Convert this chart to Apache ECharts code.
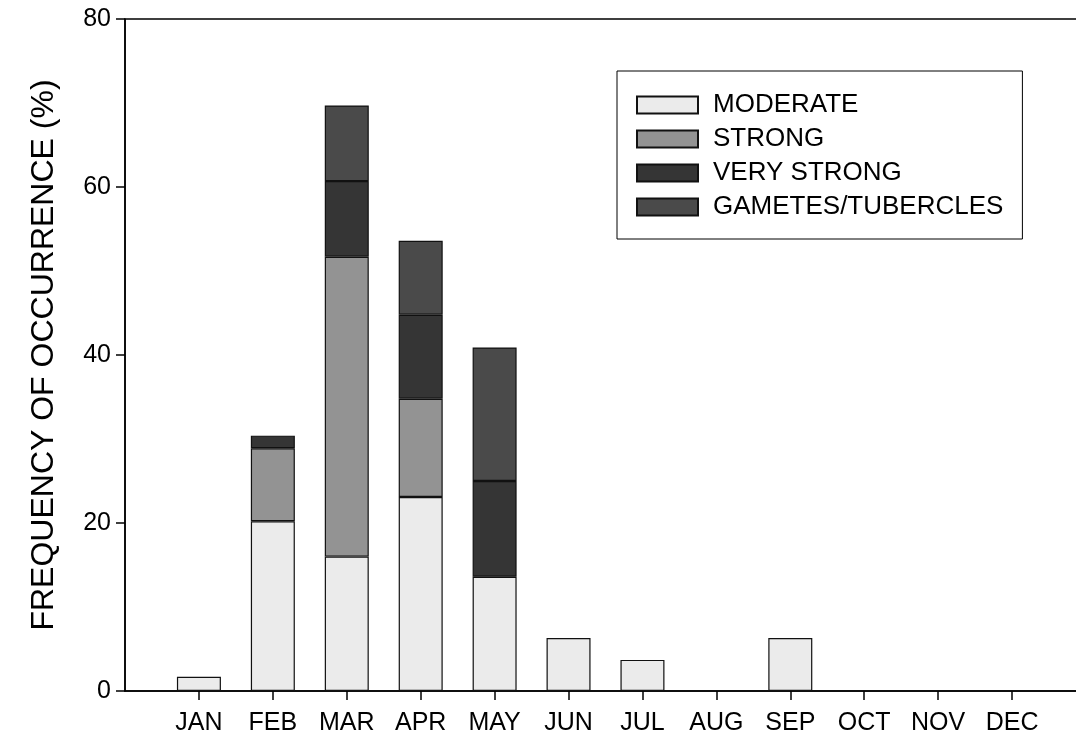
<!DOCTYPE html>
<html>
<head>
<meta charset="utf-8">
<script src="https://cdn.jsdelivr.net/npm/echarts@6/dist/echarts.min.js"></script>
<style>
  html, body { margin: 0; padding: 0; background: #fff; }
  #chart { width: 1076px; height: 744px; }
</style>
</head>
<body>
<div id="chart"></div>
<script>
// Monthly frequency of occurrence (%) by intensity class
const months = ['JAN', 'FEB', 'MAR', 'APR', 'MAY', 'JUN', 'JUL', 'AUG', 'SEP', 'OCT', 'NOV', 'DEC'];
const moderate   = [1.7, 20.2, 16.0, 23.1, 13.6, 6.3, 3.7, 0, 6.3, 0, 0, 0];
const strong     = [0, 8.7, 35.7, 11.7, 0, 0, 0, 0, 0, 0, 0, 0];
const veryStrong = [0, 1.5, 9.0, 10.0, 11.4, 0, 0, 0, 0, 0, 0, 0];
const gametes    = [0, 0, 9.0, 8.8, 15.9, 0, 0, 0, 0, 0, 0, 0];
const yTicks = [0, 20, 40, 60, 80];

const FONT = '"Liberation Sans", Arial, sans-serif';

// The month axis has an empty slot before JAN and after DEC
const axisCats = [''].concat(months, ['']);
const pad = arr => [null].concat(arr.map(v => (v === 0 ? null : v)), [null]);

function barSeries(name, values, color) {
  return {
    name: name,
    type: 'bar',
    stack: 'total',
    barWidth: 44,
    data: pad(values),
    itemStyle: { color: color, borderColor: '#111', borderWidth: 1.2 },
    emphasis: { disabled: true }
  };
}

const chart = echarts.init(document.getElementById('chart'), null, { renderer: 'canvas' });
chart.setOption({
  animation: false,
  backgroundColor: '#fff',
  grid: {
    left: 125, top: 19, width: 961, height: 672,
    outerBoundsMode: 'none',
    containLabel: false,
    show: true, borderColor: '#000', borderWidth: 1.5, backgroundColor: 'transparent'
  },
  legend: {
    orient: 'vertical',
    left: 617, top: 71,
    padding: [21, 19, 19, 19],
    borderColor: '#000', borderWidth: 1,
    itemWidth: 61, itemHeight: 17, itemGap: 8,
    icon: 'rect',
    selectedMode: false,
    textStyle: { fontFamily: FONT, fontSize: 26, color: '#000', padding: [0, 0, 0, 10] },
    data: ['MODERATE', 'STRONG', 'VERY STRONG', 'GAMETES/TUBERCLES']
  },
  xAxis: {
    type: 'category',
    data: axisCats,
    boundaryGap: false,
    axisLine: { lineStyle: { color: '#000', width: 1.5 } },
    axisTick: {
      show: true, length: 9, lineStyle: { color: '#000', width: 1.5 },
      interval: (idx) => idx > 0 && idx < axisCats.length - 1
    },
    axisLabel: { interval: 0, fontFamily: FONT, fontSize: 25, color: '#000', margin: 20 },
    splitLine: { show: false }
  },
  yAxis: {
    type: 'value',
    min: yTicks[0], max: yTicks[yTicks.length - 1], interval: 20,
    name: 'FREQUENCY OF OCCURRENCE (%)',
    nameLocation: 'middle',
    nameGap: 65,
    nameTextStyle: { fontFamily: FONT, fontSize: 32, color: '#000' },
    axisLine: { show: true, lineStyle: { color: '#000', width: 1.5 } },
    axisTick: { show: true, length: 9, lineStyle: { color: '#000', width: 1.5 } },
    axisLabel: { fontFamily: FONT, fontSize: 25, color: '#000', margin: 14 },
    splitLine: { show: false }
  },
  series: [
    barSeries('MODERATE', moderate, '#ebebeb'),
    barSeries('STRONG', strong, '#939393'),
    barSeries('VERY STRONG', veryStrong, '#353535'),
    barSeries('GAMETES/TUBERCLES', gametes, '#4a4a4a')
  ]
});
</script>
</body>
</html>
